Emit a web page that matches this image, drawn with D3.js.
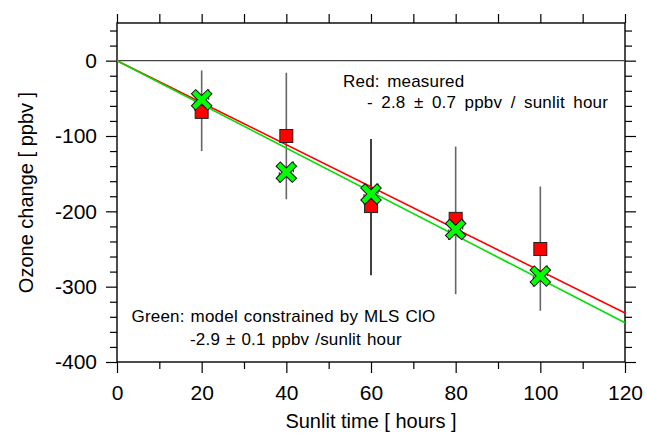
<!DOCTYPE html>
<html>
<head>
<meta charset="utf-8">
<script src="https://cdn.jsdelivr.net/npm/d3@7"></script>
<style>
  body { margin: 0; background: #fff; }
  text { font-family: "Liberation Sans", Arial, sans-serif; fill: #000; }
  .note { font-size: 17px; letter-spacing: 0.2px; word-spacing: 2.5px; }
  .note.red2 { word-spacing: 3.5px; }
  .note.green { word-spacing: 1px; }
</style>
</head>
<body>
<div id="chart"></div>
<script>
// sunlit hours of each sample
var hours = [20, 40, 60, 80, 100];
// red squares: measured ozone change and its error bar ends
var measured = [-68, -100, -193, -210, -250];
var measuredHi = [-13, -16, -104, -114, -167];
var measuredLo = [-120, -184, -285, -310, -332];
var barColors = ["#666", "#666", "#111", "#666", "#666"];
// green crosses: model constrained by MLS ClO
var model = [-52, -148, -177, -224, -286];
var modelErr = [14, 14, 14, 14, 14];
// fitted lines (end points)
var fitHours = [0, 120];
var measuredFit = [0, -335];
var modelFit = [0, -348];
// ticks
var xMajor = [0, 20, 40, 60, 80, 100, 120];
var xMinor = [10, 30, 50, 70, 90, 110];
var yMajor = [0, -100, -200, -300, -400];
var yMinor = [40, 20, -20, -40, -60, -80, -120, -140, -160, -180, -220, -240, -260, -280, -320, -340, -360, -380];

var W = 647, H = 439;
var margin = {top: 23, right: 22, bottom: 77, left: 117};
var width = W - margin.left - margin.right;
var height = H - margin.top - margin.bottom;

var x = d3.scaleLinear().domain([0, 120]).range([0, width]);
var y = d3.scaleLinear().domain([-400, 50]).range([height, 0]);

var svg = d3.select("#chart").append("svg")
  .attr("width", W).attr("height", H);
var g = svg.append("g")
  .attr("transform", "translate(" + margin.left + "," + margin.top + ")");

// plain hyphen for negative labels
var fmt = function(d) { return d < 0 ? "-" + (-d) : String(d); };

function axis(a, vals, size, pad, labels, tr) {
  var ax = g.append("g").attr("transform", tr || null)
    .call(a.tickValues(vals).tickSize(size).tickPadding(pad)
      .tickFormat(labels ? fmt : ""));
  ax.select(".domain").remove();
  ax.selectAll("line").attr("stroke", "#000").attr("stroke-width", 1.2);
  ax.selectAll("text").style("font-size", "21px").attr("fill", "#000")
    .style("font-family", "'Liberation Sans', Arial, sans-serif");
  return ax;
}

// left / right
axis(d3.axisLeft(y), yMajor, 11, 9, true);
axis(d3.axisLeft(y), yMinor, 7, 3, false);
axis(d3.axisRight(y), yMajor, 11, 3, false, "translate(" + width + ",0)");
axis(d3.axisRight(y), yMinor, 7, 3, false, "translate(" + width + ",0)");
// bottom / top
axis(d3.axisBottom(x), xMajor, 11, 12, true, "translate(0," + height + ")");
axis(d3.axisBottom(x), xMinor, 7, 3, false, "translate(0," + height + ")");
axis(d3.axisTop(x), xMajor.concat(xMinor), 9, 3, false);

// frame
g.append("rect").attr("width", width).attr("height", height)
  .attr("fill", "none").attr("stroke", "#000").attr("stroke-width", 1.4);
// zero line
g.append("line").attr("x1", 0).attr("x2", width)
  .attr("y1", y(0)).attr("y2", y(0))
  .attr("stroke", "#444").attr("stroke-width", 1.2);

// error bars of measurements
g.selectAll(".ebar").data(hours).enter().append("line")
  .attr("x1", function(d) { return x(d); })
  .attr("x2", function(d) { return x(d); })
  .attr("y1", function(d, i) { return y(measuredHi[i]); })
  .attr("y2", function(d, i) { return y(measuredLo[i]); })
  .attr("stroke", function(d, i) { return barColors[i]; })
  .attr("stroke-width", 1.6);

// small model error bars, partly hidden by the crosses
g.selectAll(".mbarL").data(hours).enter().append("line")
  .attr("x1", function(d) { return x(d) - 7; })
  .attr("x2", function(d) { return x(d) - 7; })
  .attr("y1", function(d, i) { return y(model[i]); })
  .attr("y2", function(d, i) { return y(model[i] - modelErr[i]); })
  .attr("stroke", "#444").attr("stroke-width", 1.3);
g.selectAll(".mbarR").data(hours).enter().append("line")
  .attr("x1", function(d) { return x(d) + 7; })
  .attr("x2", function(d) { return x(d) + 7; })
  .attr("y1", function(d, i) { return y(model[i]); })
  .attr("y2", function(d, i) { return y(model[i] + modelErr[i]); })
  .attr("stroke", "#444").attr("stroke-width", 1.3);

// fit lines
var line = d3.line()
  .x(function(d) { return x(d[0]); })
  .y(function(d) { return y(d[1]); });
g.append("path").datum(d3.zip(fitHours, measuredFit)).attr("d", line)
  .attr("fill", "none").attr("stroke", "#ff0000").attr("stroke-width", 1.6);
g.append("path").datum(d3.zip(fitHours, modelFit)).attr("d", line)
  .attr("fill", "none").attr("stroke", "#00e000").attr("stroke-width", 1.6);

// red squares
var s = 13;
g.selectAll(".sq").data(hours).enter().append("rect")
  .attr("x", function(d) { return x(d) - s / 2; })
  .attr("y", function(d, i) { return y(measured[i]) - s / 2; })
  .attr("width", s).attr("height", s)
  .attr("fill", "#ff0000").attr("stroke", "#222").attr("stroke-width", 1);

// green crosses
var cx = g.selectAll(".cx").data(hours).enter().append("g")
  .attr("transform", function(d, i) { return "translate(" + x(d) + "," + y(model[i]) + ")"; });
cx.append("path").attr("d", "M-6,-6L6,6M-6,6L6,-6")
  .attr("stroke", "#111").attr("stroke-width", 7).attr("stroke-linecap", "square");
cx.append("path").attr("d", "M-6,-6L6,6M-6,6L6,-6")
  .attr("stroke", "#00ff00").attr("stroke-width", 5).attr("stroke-linecap", "square");

// annotations
svg.append("text").attr("class", "note").attr("x", 343).attr("y", 86.5)
  .text("Red: measured");
svg.append("text").attr("class", "note red2").attr("x", 367).attr("y", 107.5)
  .text("- 2.8 \u00b1 0.7 ppbv / sunlit hour");
svg.append("text").attr("class", "note green").attr("x", 131.5).attr("y", 322)
  .text("Green: model constrained by MLS ClO");
svg.append("text").attr("class", "note green").attr("x", 190).attr("y", 345)
  .text("-2.9 \u00b1 0.1 ppbv /sunlit hour");

// axis titles
svg.append("text").attr("x", margin.left + width / 2).attr("y", 428)
  .attr("text-anchor", "middle").style("font-size", "20px")
  .text("Sunlit time [ hours ]");
svg.append("text").attr("transform", "translate(33," + (margin.top + height / 2) + ") rotate(-90)")
  .attr("text-anchor", "middle").style("font-size", "20px")
  .text("Ozone change [ ppbv ]");
</script>
</body>
</html>
